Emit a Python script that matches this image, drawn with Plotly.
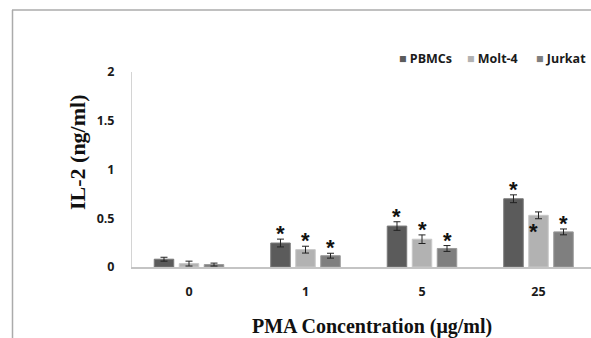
import plotly.graph_objects as go

categories = ["0", "1", "5", "25"]
series_names = ["PBMCs", "Molt-4", "Jurkat"]
pbmc = [0.08, 0.246, 0.42, 0.70]
pbmc_err = [0.02, 0.04, 0.044, 0.04]
molt = [0.035, 0.178, 0.285, 0.53]
molt_err = [0.025, 0.035, 0.044, 0.035]
jurkat = [0.025, 0.116, 0.19, 0.36]
jurkat_err = [0.015, 0.025, 0.03, 0.03]
# significance stars: 0 = none, 1 = above error bar, 2 = inside bar (left side)
pbmc_sig = [0, 1, 1, 1]
molt_sig = [0, 1, 1, 2]
jurkat_sig = [0, 1, 1, 1]

colors = ["#5b5b5b", "#b2b2b2", "#7f7f7f"]
edge = ["#7a7a7a", "#c8c8c8", "#9a9a9a"]

W, H = 591, 338
L, R, T, B = 132, 0, 72, 71
pw, ph = W - L - R, H - T - B
bargap = 0.356
unit = 116.5
r0 = -57 / unit
xrange = [r0, r0 + pw / unit]

xs = list(range(len(categories)))
fig = go.Figure()
vals = [pbmc, molt, jurkat]
errs = [pbmc_err, molt_err, jurkat_err]
sigs = [pbmc_sig, molt_sig, jurkat_sig]
for i, name in enumerate(series_names):
    fig.add_trace(go.Bar(
        x=xs, y=vals[i], name=name,
        marker=dict(color=colors[i], line=dict(color=edge[i], width=1)),
        error_y=dict(type="data", array=errs[i], color="#222222", thickness=1, width=3.5),
        showlegend=False,
    ))

slot = (1 - bargap) / 3
for i in range(3):
    off = (i - 1) * slot
    for j, s in enumerate(sigs[i]):
        if s == 1:
            fig.add_annotation(x=xs[j] + off, y=vals[i][j] + errs[i][j], text="*",
                               showarrow=False, yanchor="bottom", yshift=-9,
                               font=dict(family="Liberation Sans", size=22, color="#111111", weight="bold"))
        elif s == 2:
            fig.add_annotation(x=xs[j] + off, y=vals[i][j], text="*",
                               showarrow=False, yanchor="top", yshift=-2, xshift=-5,
                               font=dict(family="Liberation Sans", size=22, color="#111111", weight="bold"))

def px2paper_x(px):
    return (px - L) / pw

def px2paper_y(py):
    return (H - B - py) / ph

# legend drawn as text
leg_x = [402, 470, 539]
for i, name in enumerate(series_names):
    fig.add_annotation(xref="paper", yref="paper", x=px2paper_x(leg_x[i] - 5), y=px2paper_y(58),
                       xanchor="left", yanchor="middle", showarrow=False,
                       text=f"<span style='color:{colors[i]}'>■</span> {name}",
                       font=dict(family="Open Sans", size=12.5, color="#1a1a1a", weight="bold"))

# frame
fig.add_shape(type="line", xref="paper", yref="paper", x0=px2paper_x(12.5), x1=px2paper_x(12.5),
              y0=px2paper_y(10), y1=px2paper_y(340), line=dict(color="#ababab", width=1.5))
fig.add_shape(type="line", xref="paper", yref="paper", x0=px2paper_x(12), x1=px2paper_x(592),
              y0=px2paper_y(10), y1=px2paper_y(10), line=dict(color="#ababab", width=1.5))

# axis titles
fig.add_annotation(xref="paper", yref="paper", x=px2paper_x(372), y=px2paper_y(326),
                   text="PMA Concentration (μg/ml)", showarrow=False, xanchor="center", yanchor="middle",
                   font=dict(family="Liberation Serif", size=20, color="#111111", weight="bold"))
fig.add_annotation(xref="paper", yref="paper", x=px2paper_x(77), y=px2paper_y(152),
                   text="IL-2 (ng/ml)", showarrow=False, xanchor="center", yanchor="middle", textangle=-90,
                   font=dict(family="Liberation Serif", size=22, color="#111111", weight="bold"))

fig.update_layout(
    width=W, height=H, margin=dict(l=L, r=R, t=T, b=B, autoexpand=False),
    paper_bgcolor="white", plot_bgcolor="white",
    barmode="group", bargap=bargap, bargroupgap=0.22,
    xaxis=dict(range=xrange, tickvals=xs, ticktext=categories, showgrid=False, zeroline=False,
               showline=True, linecolor="#c4c4c4", linewidth=1.5, ticks="", ticklabelstandoff=12,
               tickfont=dict(family="Open Sans", size=12.5, color="#1a1a1a", weight="bold")),
    yaxis=dict(range=[0, 2], tickvals=[0, 0.5, 1, 1.5, 2], ticktext=["0", "0.5", "1", "1.5", "2"],
               showgrid=False, zeroline=False, showline=True, linecolor="#d4d4d4", linewidth=1,
               ticks="", ticklabelstandoff=14,
               tickfont=dict(family="Open Sans", size=12.5, color="#1a1a1a", weight="bold")),
)
fig.write_html("out.html", config={"displayModeBar": False},
               post_script="document.body.style.margin='0';document.body.style.overflow='hidden';")
